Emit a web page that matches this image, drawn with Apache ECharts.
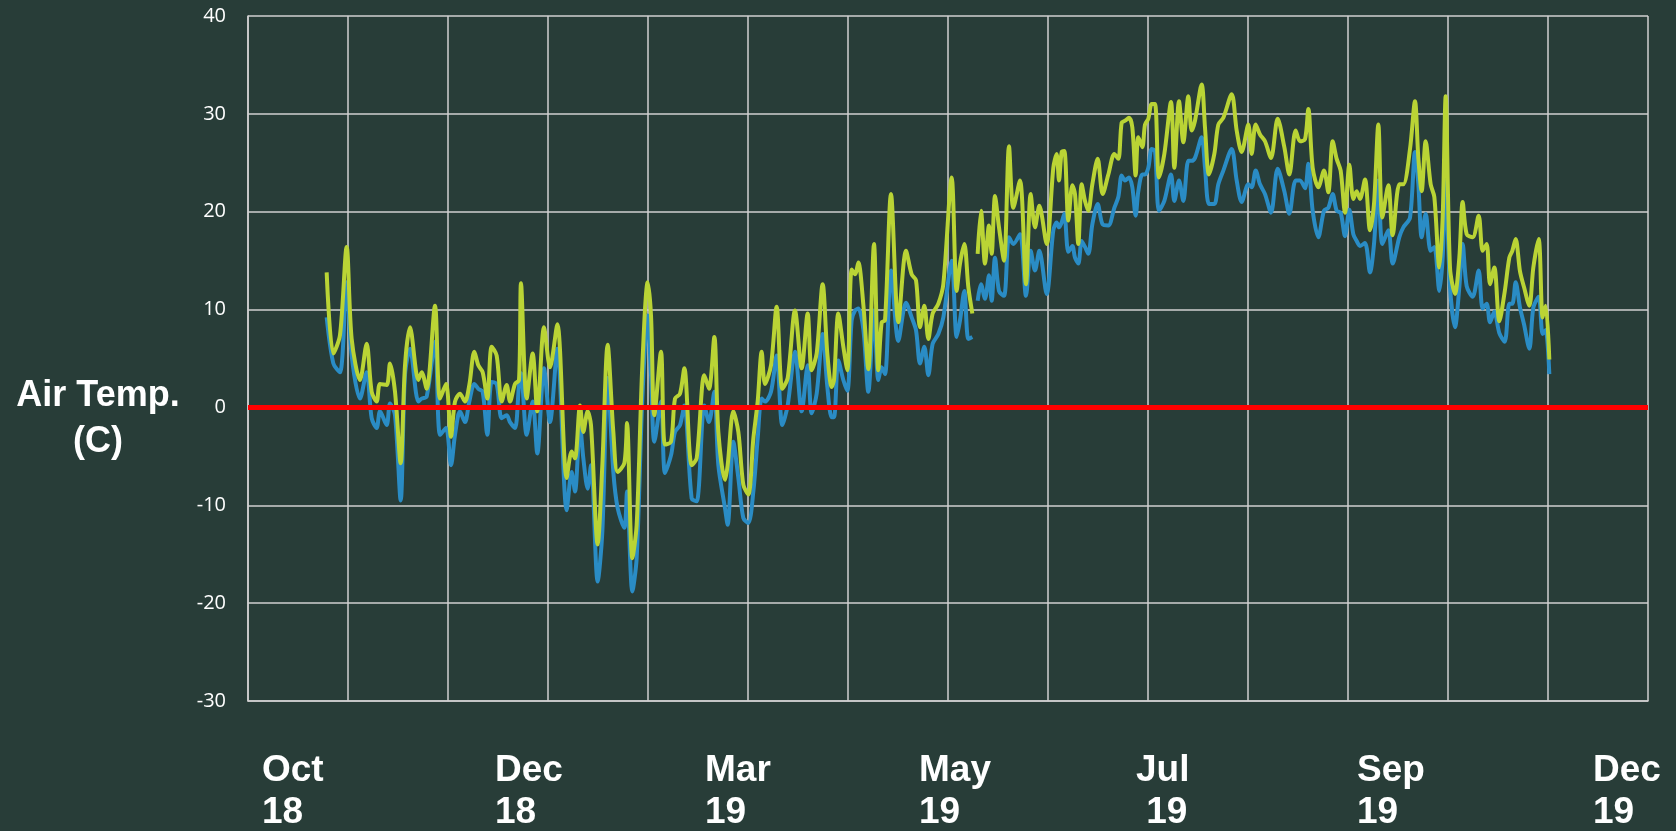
<!DOCTYPE html>
<html>
<head>
<meta charset="utf-8">
<title>Air Temp</title>
<script src="https://cdn.jsdelivr.net/npm/echarts@6.0.0/dist/echarts.min.js"></script>
<style>
html, body { margin: 0; padding: 0; background: #283d38; }
#main { width: 1676px; height: 831px; }
</style>
</head>
<body>
<div id="main"></div>
<script>
// day index along the x axis (gridline every 30 days)
var days = [
  23.6,25.6,27.6,29.6,31.1,33.6,35.6,37.1,38.6,39.6,41.6,42.6,44.1,45.8,47.1,48.6,51.1,52.1,53.6,56.1,57.6,59.4,60.9,62.1,63.6,65.1,66.4,67.9,69.1,70.4,71.8,73.1,74.6,76.1,77.6,78.6,80.1,81.3,81.9,83.6,85.4,86.8,88.8,90.6,92.8,95.6,
  97.1,98.1,99.6,100.6,101.9,102.9,104.9,106.3,107.9,109.6,110.9,112.9,113.7,115.3,116.6,118.3,119.9,120.9,121.9,123.9,125.1,126.9,128.1,129.6,130.9,133.1,134.6,136.9,138.3,139.9,141.1,143.1,143.9,145.6,147.1,148.6,150.1,151.6,152.9,154.1,155.1,156.9,158.6,160.3,161.9,164.1,166.1,167.9,
  169.1,170.6,172.4,173.8,175.1,175.8,177.1,178.6,179.8,181.1,182.1,183.1,184.6,186.1,187.8,189.1,190.1,191.1,192.9,195.1,197.4,199.1,200.4,201.6,202.9,204.1,205.4,207.1,208.6,211.1,212.6,213.6,214.9,216.1,217.3,218.1,218.9,219.9,221.1,222.3,223.1,224.1,225.3,226.8,228.3,229.6,231.6,233.4,234.8,236.1,237.4,239.6,241.6,
  242.6,243.3,244.1,244.9,246.1,247.3,248.1,249.1,250.1,251.1,252.1,253.3,254.9,256.4,258.1,259.9,261.1,262.1,263.1,264.3,265.3,266.3,267.1,268.3,269.1,270.1,271.1,272.1,273.3,274.9,276.9,277.9,279.3,280.6,282.1,283.1,284.1,286.1,287.1,288.3,289.9,291.1,292.6,295.1,296.6,298.1,300.1,301.1,302.3,303.6,305.1,306.9,308.9,310.9,312.4,314.3,315.6,
  317.1,318.1,319.4,321.1,322.8,324.1,325.4,326.6,327.8,329.1,330.4,331.6,332.6,333.6,335.1,336.6,337.8,339.1,340.3,342.1,343.4,345.4,346.6,348.6,350.1,351.1,352.1,353.3,354.8,355.9,357.4,358.4,359.3,360.6,362.1,363.4,364.4,365.6,367.4,369.2,370.4,371.6,372.6,373.9,375.4,377.0,378.4,379.3,380.3,381.6,382.8,384.4,385.6,387.2,388.4,389.3,390.4
];
// yellow-green line
var upperTemp = [
  13.8,5.5,7.4,16.4,7.0,2.8,6.5,1.6,0.6,2.4,2.3,4.5,1.6,-5.7,4.3,8.2,2.8,3.6,1.9,10.4,0.9,2.4,-3.0,0.6,1.4,0.6,2.3,5.7,4.3,3.6,0.9,6.2,5.3,0.6,2.3,0.6,2.4,2.8,12.7,0.9,5.5,-0.4,8.2,4.1,8.5,-7.2,
  -4.5,-5.2,0.2,-2.5,-0.4,-1.8,-14.0,-5.9,6.4,-2.5,-6.6,-5.7,-1.6,-15.4,-12.0,4.3,12.8,9.4,-0.8,5.7,-3.8,-3.5,0.9,1.4,4.0,-5.9,-5.2,3.3,1.9,7.2,-2.5,-7.4,-5.9,-0.4,-2.5,-7.9,-8.9,-3.2,0.6,5.7,2.4,4.3,10.3,1.9,3.0,9.9,4.0,9.6,
  3.8,5.5,12.6,5.5,2.1,2.8,9.6,6.2,3.8,14.1,13.6,14.8,10.5,3.9,16.7,3.8,8.7,8.9,21.8,8.7,16.0,13.6,13.0,8.2,10.4,7.0,9.6,10.6,12.6,23.5,11.9,14.7,16.7,12.3,9.6,null,15.7,20.1,14.7,18.6,15.7,21.6,18.4,15.0,26.7,20.4,23.2,12.6,21.8,18.4,20.6,16.7,24.5,
  25.9,23.2,26.1,26.2,19.1,22.7,21.8,16.7,22.8,21.1,20.1,22.8,25.4,21.8,23.8,25.9,25.4,29.1,29.3,29.6,28.6,23.7,27.6,26.6,28.9,29.5,31.0,31.0,23.5,25.9,31.2,24.5,31.3,27.1,31.8,28.3,29.3,33.0,28.6,23.8,25.9,28.9,29.6,32.0,28.3,26.1,28.9,25.9,28.9,27.9,27.2,25.5,29.5,26.6,23.8,28.3,27.2,
  27.4,30.5,24.5,22.5,24.2,22.0,27.2,25.4,24.2,19.9,24.8,21.3,22.1,21.3,23.3,18.1,20.8,28.9,19.4,22.7,17.6,22.8,22.8,26.4,31.3,25.5,22.1,27.2,22.8,21.5,14.3,19.4,31.8,14.3,11.6,15.3,21.0,17.7,17.4,19.6,16.0,16.7,12.6,14.3,8.8,11.8,15.3,16.0,17.2,13.9,12.3,10.4,14.3,17.2,9.2,10.4,4.9
];
// blue line
var lowerTemp = [
  9.2,4.5,3.6,12.8,5.3,0.9,3.6,-1.1,-2.1,-0.4,-1.8,0.4,-0.8,-9.5,3.3,6.0,0.6,0.9,1.1,6.7,-2.8,-2.1,-5.9,-2.8,-0.4,-1.5,0.6,2.4,1.9,1.6,-2.8,2.6,2.4,-1.1,-0.8,-1.5,-2.1,2.3,3.5,-2.8,0.6,-4.7,4.0,-1.5,6.0,-10.5,
  -6.6,-8.6,-1.8,-5.2,-8.3,-5.9,-17.8,-12.7,3.0,-6.6,-10.3,-12.3,-8.6,-18.8,-15.4,0.9,9.4,3.3,-3.5,0.6,-6.7,-4.9,-2.5,-1.8,0.2,-9.3,-9.6,0.2,-1.5,1.6,-5.9,-10.3,-12.0,-3.5,-7.2,-11.3,-11.8,-8.6,-3.2,0.9,0.6,1.6,5.3,-1.8,0.2,5.7,-0.4,4.3,
  -0.6,1.4,7.5,2.1,-1.0,-1.0,4.8,2.8,1.7,8.9,9.9,10.1,8.0,1.6,9.9,2.8,4.1,3.4,14.0,6.8,10.7,9.2,7.9,4.5,6.2,3.3,6.5,7.5,9.2,15.0,7.2,8.9,11.9,7.0,7.2,null,10.9,12.6,11.1,13.5,10.9,15.3,11.9,11.4,17.4,16.7,17.7,11.4,16.0,14.0,16.0,11.6,18.1,
  18.9,18.4,18.9,19.8,15.9,16.5,15.3,14.7,17.0,16.4,15.7,18.7,20.8,18.7,18.6,20.4,21.5,23.7,23.2,23.5,22.5,19.6,22.1,23.8,23.8,24.5,26.4,26.2,20.1,21.1,23.8,21.1,23.2,21.1,25.2,25.2,25.5,27.6,24.5,20.8,20.8,22.8,24.2,26.4,23.2,21.0,22.8,22.5,24.2,22.8,21.8,19.9,24.4,22.1,19.8,23.2,23.2,
  22.4,24.9,20.1,17.4,20.1,20.4,21.8,20.1,19.9,17.5,20.2,17.7,17.0,16.5,16.8,13.8,16.7,23.2,16.7,18.1,14.7,17.4,18.4,19.4,26.1,22.8,17.4,19.8,16.0,16.4,11.9,15.3,23.2,12.3,8.2,12.3,16.7,12.4,11.3,14.0,10.1,10.6,8.7,9.8,7.6,6.7,10.6,10.6,12.8,10.2,8.5,6.0,10.2,11.3,7.5,7.9,3.4
];
var freezeLevel = 0;
var xLabels = ['Oct\n18', 'Dec\n18', 'Mar\n19', 'May\n19', 'Jul\n 19', 'Sep\n19', 'Dec\n19'];
var yTitle = 'Air Temp.\n(C)';

// layout only: left edge of each bottom label in px
var xLabelLeft = [262, 495, 705, 919, 1136, 1357, 1593];

var gridColor = '#d0d0d0';

function toPairs(vals) {
  return days.map(function (d, i) { return [d, vals[i] === null ? '-' : vals[i]]; });
}

var graphics = xLabels.map(function (t, i) {
  return {
    type: 'text', left: xLabelLeft[i], top: 750, silent: true,
    style: {
      text: t, fill: '#ffffff', font: 'bold 37px "Liberation Sans"',
      lineHeight: 42, align: 'left', textAlign: 'left'
    }
  };
});
graphics.push({
  type: 'text', x: 98, y: 373, silent: true,
  style: {
    text: yTitle, fill: '#ffffff', font: 'bold 36px "Liberation Sans"',
    lineHeight: 46, align: 'center', textAlign: 'center', verticalAlign: 'top', textVerticalAlign: 'top'
  }
});

var myChart = echarts.init(document.getElementById('main'));
myChart.setOption({
  backgroundColor: '#283d38',
  animation: false,
  grid: { left: 248, right: 28, top: 16, bottom: 130 },
  xAxis: {
    type: 'value', min: 0, max: 420, interval: 30,
    axisLabel: { show: false },
    axisTick: { show: false },
    axisLine: { show: true, onZero: false, lineStyle: { color: gridColor, width: 1.5 } },
    splitLine: { show: true, lineStyle: { color: gridColor, width: 1.5 } }
  },
  yAxis: {
    type: 'value', min: -30, max: 40, interval: 10,
    axisTick: { show: false },
    axisLine: { show: true, lineStyle: { color: gridColor, width: 1.5 } },
    axisLabel: { color: '#ffffff', fontSize: 20, fontFamily: 'Open Sans', margin: 22 },
    splitLine: { show: true, lineStyle: { color: gridColor, width: 1.5 } }
  },
  series: [
    {
      name: 'lower', type: 'line', data: toPairs(lowerTemp),
      showSymbol: false, smooth: 0.3, connectNulls: false,
      lineStyle: { color: '#2a8cc5', width: 4 }
    },
    {
      name: 'upper', type: 'line', data: toPairs(upperTemp),
      showSymbol: false, smooth: 0.3, connectNulls: false,
      lineStyle: { color: '#bad435', width: 4 }
    },
    {
      name: 'freeze', type: 'line', data: [], z: 5,
      markLine: {
        silent: true, symbol: ['none', 'none'],
        label: { show: false },
        lineStyle: { color: '#ff0000', width: 5, type: 'solid' },
        data: [{ yAxis: freezeLevel }]
      }
    }
  ],
  graphic: graphics
});
</script>
</body>
</html>
